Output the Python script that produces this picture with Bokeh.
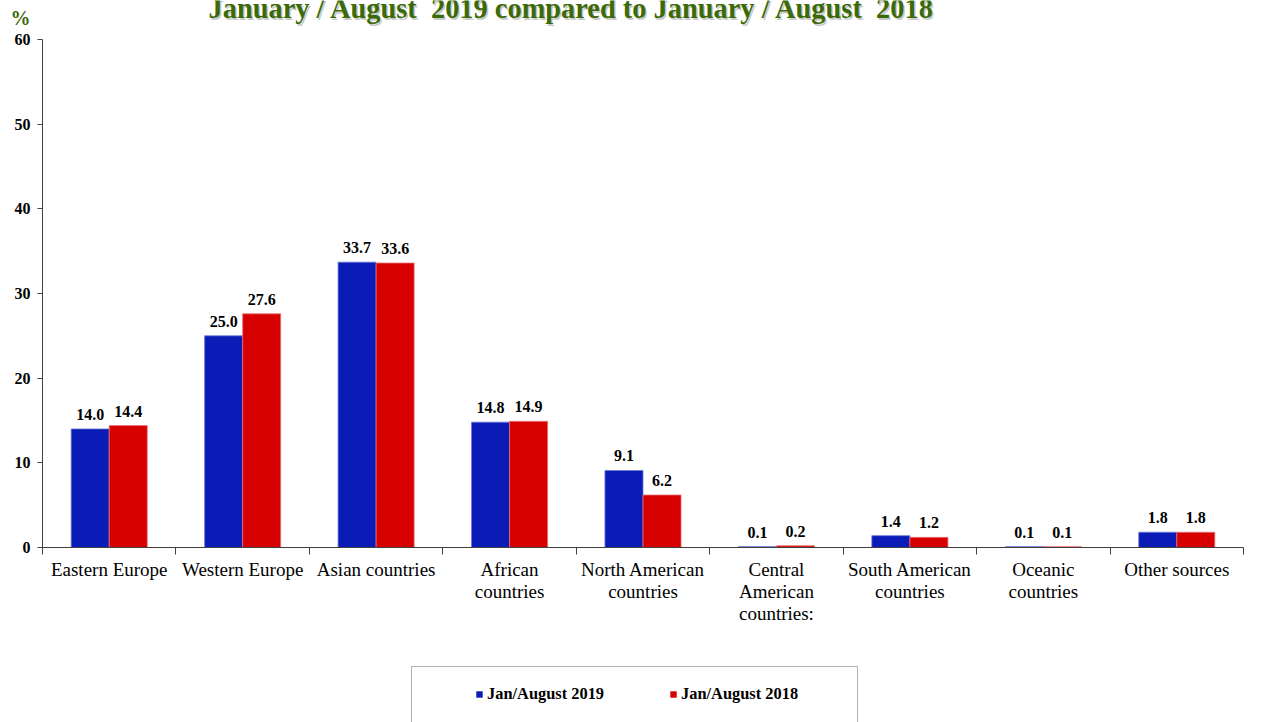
from bokeh.plotting import figure
from bokeh.layouts import column
from bokeh.models import (ColumnDataSource, Range1d, FixedTicker, Label, Legend,
                          LegendItem, BoxAnnotation)
from bokeh.core.properties import value
from bokeh.embed import file_html
from bokeh.resources import INLINE

# ---------------- data ----------------
categories = [
    "Eastern Europe",
    "Western Europe",
    "Asian countries",
    "African\ncountries",
    "North American\ncountries",
    "Central\nAmerican\ncountries:",
    "South American\ncountries",
    "Oceanic\ncountries",
    "Other sources",
]
values_2019 = [14.0, 25.0, 33.7, 14.8, 9.1, 0.1, 1.4, 0.1, 1.8]
values_2018 = [14.4, 27.6, 33.6, 14.9, 6.2, 0.2, 1.2, 0.1, 1.8]
series_names = ["Jan/August 2019", "Jan/August 2018"]
y_ticks = [0, 10, 20, 30, 40, 50, 60]
title_text = "January / August  2019 compared to January / August  2018"
unit_text = "%"

# ---------------- style ----------------
BLUE = "#0B1CB6"
RED = "#D60000"
BLUE_EDGE = "#6874D8"
RED_EDGE = "#EC7070"
GREEN = "#3B6B08"
SERIF = "Liberation Serif"
BAR_W = 0.285
W = 1262
LEFT, RIGHT = 42, 19              # plot-frame borders shared by all rows
HEAD_H, MAIN_H, FOOT_H = 29, 621, 72


def bare_fig(h, with_y_axis=False):
    f = figure(width=W, height=h, output_backend="svg", toolbar_location=None,
               title=None,
               x_range=Range1d(LEFT, W - RIGHT), y_range=Range1d(h, 0),
               x_axis_type=None, y_axis_type="linear" if with_y_axis else None)
    f.min_border = 0
    f.min_border_left = LEFT
    f.min_border_right = RIGHT
    f.outline_line_color = None
    f.xgrid.visible = False
    f.ygrid.visible = False
    return f


# ---------------- header: title and unit ----------------
head = bare_fig(HEAD_H, with_y_axis=True)
shown_title = title_text.replace("  ", " \u00a0")
for dx, dy, col, alpha in [(1.5, -1.5, "#888888", 0.45), (0, 0, GREEN, 1.0)]:
    head.add_layout(Label(x=208, y=8, text=shown_title, text_align="left",
                          text_baseline="middle", x_offset=dx, y_offset=dy,
                          text_font=SERIF, text_font_style="bold",
                          text_font_size="28.4px", text_color=col, text_alpha=alpha))
ha = head.yaxis[0]
ha.ticker = FixedTicker(ticks=[17], minor_ticks=[])
ha.major_label_overrides = {17: unit_text}
ha.axis_line_color = None
ha.major_tick_line_color = None
ha.minor_tick_line_color = None
ha.major_tick_out = 0
ha.major_tick_in = 0
ha.major_label_standoff = 12
ha.major_label_text_font = SERIF
ha.major_label_text_font_style = "bold"
ha.major_label_text_font_size = "20px"
ha.major_label_text_color = GREEN

# ---------------- main chart ----------------
n = len(categories)
centers = [i + 0.5 for i in range(n)]
x2019 = [c - BAR_W / 2 for c in centers]
x2018 = [c + BAR_W / 2 for c in centers]

src = ColumnDataSource(dict(
    x2019=x2019, x2018=x2018,
    v2019=values_2019, v2018=values_2018,
    t2019=[f"{v:.1f}" for v in values_2019],
    t2018=[f"{v:.1f}" for v in values_2018],
))

p = figure(width=W, height=MAIN_H, output_backend="svg", toolbar_location=None,
           title=None, x_range=Range1d(0, n), y_range=Range1d(0, 60))
p.min_border = 0
p.min_border_left = LEFT
p.min_border_right = RIGHT
p.min_border_top = 10
p.min_border_bottom = 103
p.outline_line_color = None
p.xgrid.visible = False
p.ygrid.visible = False

r1 = p.vbar(x="x2019", top="v2019", width=BAR_W, bottom=0, source=src,
            fill_color=BLUE, line_color=BLUE_EDGE, line_width=0.8)
r2 = p.vbar(x="x2018", top="v2018", width=BAR_W, bottom=0, source=src,
            fill_color=RED, line_color=RED_EDGE, line_width=0.8)

for col_x, col_y, col_t in [("x2019", "v2019", "t2019"), ("x2018", "v2018", "t2018")]:
    p.text(x=col_x, y=col_y, text=col_t, source=src, text_align="center",
           text_baseline="bottom", y_offset=-9, text_font=value(SERIF),
           text_font_style="bold", text_font_size="16px", text_color="black")

xa = p.xaxis[0]
xa.ticker = FixedTicker(ticks=centers, minor_ticks=list(range(n + 1)))
xa.major_label_overrides = {c: lab for c, lab in zip(centers, categories)}
xa.major_tick_line_color = None
xa.major_tick_out = 0
xa.major_tick_in = 0
xa.minor_tick_out = 7
xa.minor_tick_in = 0
xa.minor_tick_line_color = "#404040"
xa.axis_line_color = "#404040"
xa.major_label_standoff = 4
xa.major_label_text_font = SERIF
xa.major_label_text_font_size = "19px"
xa.major_label_text_color = "black"
xa.major_label_text_line_height = 1.05

ya = p.yaxis[0]
ya.ticker = FixedTicker(ticks=y_ticks, minor_ticks=[])
ya.major_tick_out = 5
ya.major_tick_in = 0
ya.major_tick_line_color = "#404040"
ya.axis_line_color = "#404040"
ya.major_label_standoff = 7
ya.major_label_text_font = SERIF
ya.major_label_text_font_style = "bold"
ya.major_label_text_font_size = "16px"
ya.major_label_text_color = "black"

# ---------------- footer: legend ----------------
foot = bare_fig(FOOT_H)
foot.add_layout(BoxAnnotation(left=411, right=857, top=16, bottom=FOOT_H + 20,
                              fill_alpha=0, line_color="black", line_width=1,
                              editable=False))
# swatch renderers for the legend (kept outside the visible range)
swatch = ColumnDataSource(dict(x=[-1000], top=[0]))
lr1 = foot.vbar(x="x", top="top", width=1, source=swatch, fill_color=BLUE, line_color=None)
lr2 = foot.vbar(x="x", top="top", width=1, source=swatch, fill_color=RED, line_color=None)
legend = Legend(items=[LegendItem(label=series_names[0], renderers=[lr1]),
                       LegendItem(label=series_names[1], renderers=[lr2])],
                orientation="horizontal", location=(475 - LEFT, 18),
                glyph_width=8, glyph_height=8, label_height=8,
                label_standoff=4, spacing=65, padding=0, margin=0,
                border_line_color=None, background_fill_alpha=0,
                label_text_font=SERIF, label_text_font_style="bold",
                label_text_font_size="16.4px", label_text_color="black")
foot.add_layout(legend)

layout = column(head, p, foot, spacing=0)
open("out.html", "w").write(file_html(layout, INLINE))
